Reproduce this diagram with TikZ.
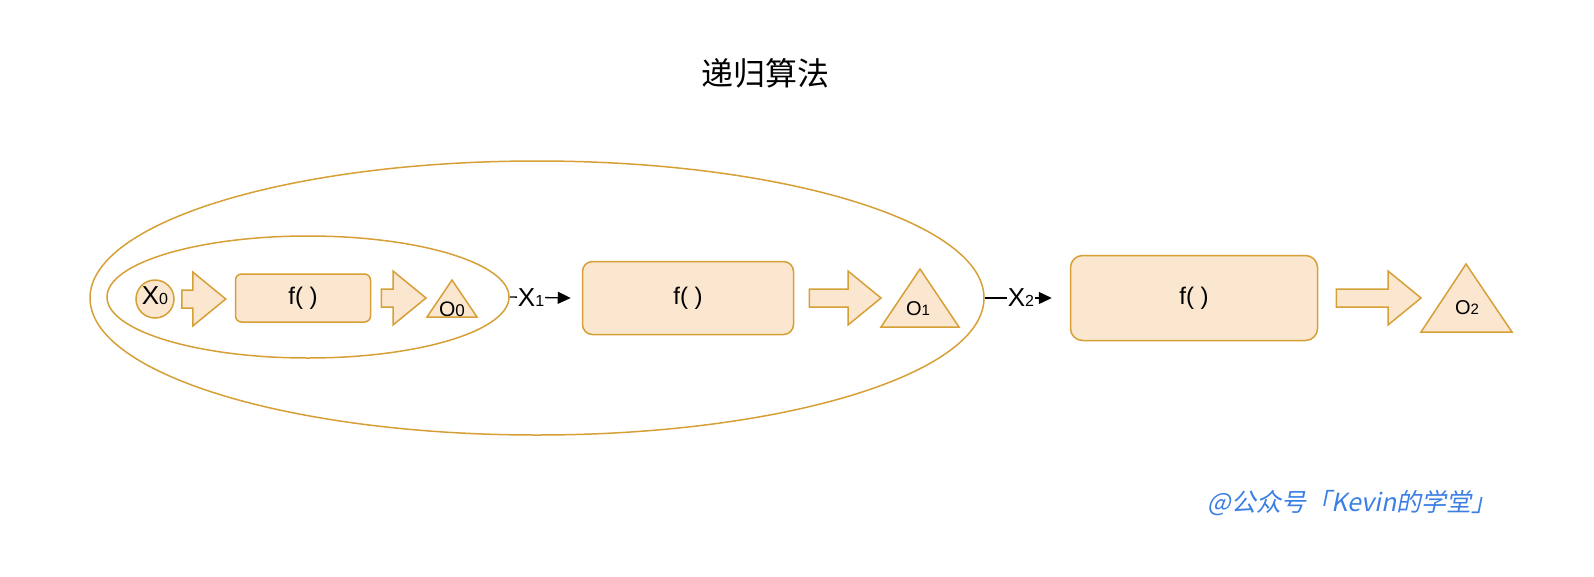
\documentclass[tikz,border=0pt]{standalone}
\usepackage{fontspec}
\setmainfont{Liberation Sans}
\newfontfamily\cjk{Noto Sans CJK SC}
\newfontfamily\cjkslant[FakeSlant=0.2]{Noto Sans CJK SC}
\usetikzlibrary{shapes.geometric,calc,arrows.meta}

\definecolor{peach}{HTML}{FBE6CF}
\definecolor{amber}{HTML}{D6A037}
\definecolor{wmblue}{HTML}{3B7FE4}

% small digit sitting on the baseline
\newcommand\dig[2][16]{{\fontsize{#1}{#1}\selectfont #2}}

% fat block arrow from #1 to the tip #2
\newcommand\fatarrow[2]{%
  \path[fat] let \p1=#1, \p2=#2 in
    (\x1,\y1+9pt) -- (\x2-33pt,\y1+9pt) -- (\x2-33pt,\y1+27pt) -- (\x2,\y1)
    -- (\x2-33pt,\y1-27pt) -- (\x2-33pt,\y1-9pt) -- (\x1,\y1-9pt) -- cycle;}

\tikzset{
  box/.style={draw=amber, fill=peach, line width=1.5pt, rounded corners=#1, inner sep=0pt},
  ring/.style={ellipse, draw=amber, line width=1.5pt, inner sep=0pt},
  tri/.style={draw=amber, fill=peach, line width=1.5pt},
  fat/.style={draw=amber, fill=peach, line width=1.5pt},
  flab/.style={font=\fontsize{24}{26}\selectfont},
  xlab/.style={font=\fontsize{26}{28}\selectfont, inner sep=1pt},
  olab/.style={font=\fontsize{20}{22}\selectfont, inner sep=0pt},
  link/.style={line width=1.3pt, -{Triangle[length=13pt,width=12pt]}}
}

\begin{document}
\begin{tikzpicture}[x=1pt, y=-1pt]
    \useasboundingbox (0,0) rectangle (1594,576);

    % Titolo
    \node[font=\cjk\fontsize{32}{34}\selectfont] (title) at (765,73) {递归算法};

    % Ellissi
    \node[ring, minimum width=894pt, minimum height=274pt] (outer) at (537,298) {};
    \node[ring, minimum width=402pt, minimum height=122pt] (inner) at (308,297) {};

    % Livello 0
    \node[circle, draw=amber, fill=peach, line width=1.5pt, minimum size=38pt, inner sep=0pt] (x0) at (155,299) {};
    \node[xlab] (x0t) at (155,296) {X\dig{0}};
    \node[box=6pt, minimum width=135pt, minimum height=48pt, flab] (f0) at (303,298) {f( )};
    \draw[tri] (427,317) -- (452,280) -- (477,317) -- cycle;
    \node[olab, font=\fontsize{21}{22}\selectfont] (o0) at (452,309) {O\dig[17]{0}};
    \fatarrow{($(x0.east)+(7,0)$)}{($(f0.west)+(-9,0)$)}
    \fatarrow{($(f0.east)+(10,0)$)}{($(o0)+(-26,0)$)}

    % Livello 1
    \node[box=10pt, minimum width=211pt, minimum height=73pt, flab] (f1) at (688,298) {f( )};
    \draw[tri] (881,327) -- (920,269) -- (959,327) -- cycle;
    \node[olab] (o1) at (918,309) {O\dig[15]{1}};
    \fatarrow{($(f1.east)+(15,0)$)}{($(o1)+(-37,0)$)}
    \draw[link] (inner.east) -- ($(f1.west)+(-11,0)$)
        node[pos=0.35, xlab, fill=white] (x1) {X\dig{1}};

    % Livello 2
    \node[box=12pt, minimum width=247pt, minimum height=85pt, flab] (f2) at (1194,298) {f( )};
    \draw[tri] (1421,332) -- (1466,264) -- (1512,332) -- cycle;
    \node[olab] (o2) at (1467,308) {O\dig[15]{2}};
    \fatarrow{($(f2.east)+(18,0)$)}{($(o2)+(-46,0)$)}
    \draw[link] (outer.east) -- ($(f2.west)+(-18,0)$)
        node[pos=0.54, xlab, fill=white] (x2) {X\dig{2}};

    % Firma
    \node[font=\cjkslant\fontsize{25}{27}\selectfont, text=wmblue] (sign) at (1352,503) {@公众号「Kevin的学堂」};
\end{tikzpicture}
\end{document}
